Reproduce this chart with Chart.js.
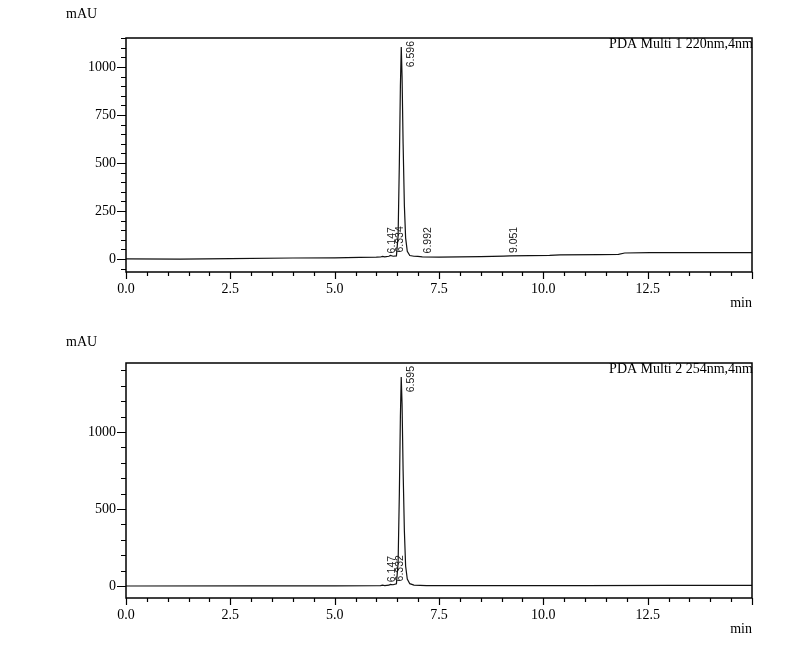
<!DOCTYPE html>
<html lang="en">
  <head>
    <meta charset="UTF-8" />
    <title>PDA chromatogram</title>
    <style>
      body {
        margin: 0;
        background: #fff;
      }
      .panel {
        position: absolute;
        left: 0;
        width: 809px;
        height: 327px;
      }
    </style>
  </head>
  <body>
    <div class="panel" style="top: 0px"><canvas id="chart220" width="809" height="327"></canvas></div>
    <div class="panel" style="top: 327px"><canvas id="chart254" width="809" height="327"></canvas></div>

    <script src="https://cdn.jsdelivr.net/npm/chart.js"></script>

    <script>
      // 220 nm trace (min, mAU)
      const t220 = [0, 1.3, 2.5, 4.0, 5.0, 5.6, 6.0, 6.1, 6.147, 6.2, 6.3, 6.334, 6.4, 6.48, 6.52, 6.55, 6.575, 6.596, 6.615, 6.64, 6.67, 6.7, 6.74, 6.8, 6.9, 6.992, 7.1, 7.5, 8.5, 9.051, 9.2, 10.15, 10.4, 11.35, 11.8, 11.95, 12.55, 13.5, 15.0];
      const mau220 = [0, -1, 2, 5, 6, 8, 9, 10, 13, 11, 14, 18, 14, 16, 120, 500, 900, 1104, 950, 600, 280, 110, 40, 18, 14, 13, 11, 9, 12, 15, 16, 19, 21, 22, 24, 31, 33, 33, 33];
      const peaks220 = [6.147, 6.334, 6.596, 6.992, 9.051];
      const peakText220 = ["6.147", "6.334", "6.596", "6.992", "9.051"];

      // 254 nm trace (min, mAU)
      const t254 = [0, 3.0, 5.0, 6.0, 6.1, 6.147, 6.2, 6.3, 6.332, 6.4, 6.48, 6.52, 6.55, 6.575, 6.595, 6.615, 6.64, 6.67, 6.7, 6.74, 6.8, 6.9, 7.2, 9.0, 11.0, 13.0, 15.0];
      const mau254 = [0, 0.5, 1, 1.5, 2, 5, 2.5, 5, 10, 8, 14, 150, 600, 1100, 1357, 1180, 750, 360, 130, 45, 15, 6, 3, 2.5, 3, 4, 4.5];
      const peaks254 = [6.147, 6.332, 6.595];
      const peakText254 = ["6.147", "6.332", "6.595"];

      const xTicks = { min: 0, max: 15, step: 0.5 };
      const serif = "'Liberation Serif', 'Times New Roman', serif";

      function interp(ts, vs, t) {
        for (let i = 1; i < ts.length; i++) {
          if (t <= ts[i]) {
            const f = (t - ts[i - 1]) / (ts[i] - ts[i - 1]);
            return vs[i - 1] + f * (vs[i] - vs[i - 1]);
          }
        }
        return vs[vs.length - 1];
      }

      function makeChart(id, ts, vs, cfg) {
        const decor = {
          id: "decor",
          afterDraw(chart) {
            const c = chart.ctx;
            const a = chart.chartArea;
            const xs = chart.scales.x;
            const ys = chart.scales.y;
            c.save();
            c.strokeStyle = "#000";
            c.fillStyle = "#000";
            c.lineWidth = 1.5;
            c.strokeRect(a.left, a.top, a.right - a.left, a.bottom - a.top);

            // tick marks
            c.lineWidth = 1.2;
            c.beginPath();
            for (let i = 0; i * xTicks.step <= xTicks.max + 1e-9; i++) {
              const px = Math.round(xs.getPixelForValue(i * xTicks.step)) + 0.5;
              const len = i % 5 === 0 ? 7 : 4;
              c.moveTo(px, a.bottom);
              c.lineTo(px, a.bottom + len);
            }
            const first = Math.ceil(cfg.yMin / cfg.yStep);
            for (let i = first; i * cfg.yStep <= cfg.yMax; i++) {
              const py = Math.round(ys.getPixelForValue(i * cfg.yStep)) + 0.5;
              const len = i % 5 === 0 ? 9 : 5;
              c.moveTo(a.left, py);
              c.lineTo(a.left - len, py);
            }
            c.stroke();

            // axis titles and trace name
            c.font = "14px " + serif;
            c.textAlign = "left";
            c.fillText("mAU", 66, cfg.mauY);
            c.textAlign = "right";
            c.fillText("min", 752, cfg.minY);
            c.fillText(cfg.name, 753, a.top + 10);

            // peak labels, rotated
            c.font = "10.5px 'Liberation Sans', Arial, sans-serif";
            c.fillStyle = "#1a1a1a";
            c.textAlign = "left";
            c.textBaseline = "middle";
            cfg.peaks.forEach((t, k) => {
              const txt = cfg.peakText[k];
              const w = c.measureText(txt).width;
              let bottom = ys.getPixelForValue(interp(ts, vs, t)) - 3;
              if (bottom - w < a.top + 3) bottom = a.top + 3 + w;
              c.save();
              c.translate(xs.getPixelForValue(t) + 10, bottom);
              c.rotate(-Math.PI / 2);
              c.fillText(txt, 0, 0);
              c.restore();
            });
            c.restore();
          },
        };

        return new Chart(document.getElementById(id), {
          type: "line",
          data: {
            datasets: [
              {
                data: ts.map((t, i) => ({ x: t, y: vs[i] })),
                borderColor: "#111",
                borderWidth: 1.2,
                pointRadius: 0,
                tension: 0,
                fill: false,
              },
            ],
          },
          options: {
            responsive: false,
            animation: false,
            events: [],
            layout: { padding: { left: 0, right: 57, top: cfg.top, bottom: 0 } },
            plugins: { legend: { display: false }, tooltip: { enabled: false } },
            scales: {
              x: {
                type: "linear",
                min: xTicks.min,
                max: xTicks.max,
                grid: { display: false, drawTicks: false },
                border: { display: false },
                afterFit: (s) => {
                  s.height = cfg.xHeight;
                },
                ticks: {
                  stepSize: xTicks.step,
                  includeBounds: false,
                  autoSkip: false,
                  maxRotation: 0,
                  padding: 9,
                  color: "#000",
                  font: { family: serif, size: 14 },
                  callback: (v) => {
                    const r = Math.round(v * 10) / 10;
                    if (Math.abs(r % 2.5) > 1e-6 || r >= 15) return "";
                    return r.toFixed(1);
                  },
                },
              },
              y: {
                min: cfg.yMin,
                max: cfg.yMax,
                grid: { display: false, drawTicks: false },
                border: { display: false },
                afterFit: (s) => {
                  s.width = 126;
                },
                ticks: {
                  stepSize: cfg.yStep,
                  includeBounds: false,
                  autoSkip: false,
                  padding: 10,
                  color: "#000",
                  font: { family: serif, size: 14 },
                  callback: (v) => {
                    const r = Math.round(v);
                    if (Math.abs(v - r) > 1e-6 || r % cfg.yMajor !== 0) return "";
                    return String(r);
                  },
                },
              },
            },
          },
          plugins: [decor],
        });
      }

      makeChart("chart220", t220, mau220, {
        top: 38,
        xHeight: 55,
        yMin: -68,
        yMax: 1151,
        yStep: 50,
        yMajor: 250,
        mauY: 18,
        minY: 307,
        name: "PDA Multi 1 220nm,4nm",
        peaks: peaks220,
        peakText: peakText220,
      });

      makeChart("chart254", t254, mau254, {
        top: 36,
        xHeight: 56,
        yMin: -78,
        yMax: 1448,
        yStep: 100,
        yMajor: 500,
        mauY: 19,
        minY: 306,
        name: "PDA Multi 2 254nm,4nm",
        peaks: peaks254,
        peakText: peakText254,
      });
    </script>
  </body>
</html>
